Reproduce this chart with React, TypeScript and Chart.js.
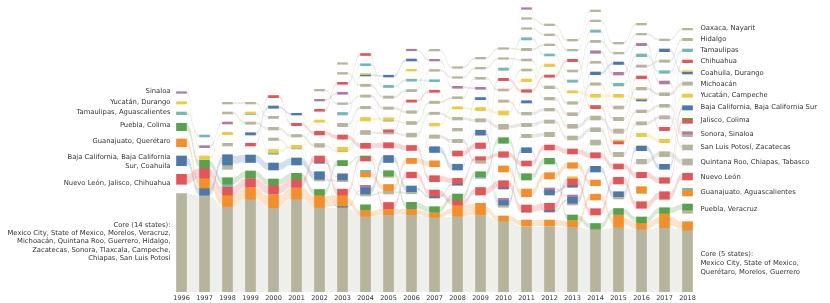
import React, { useEffect, useRef } from "react";
import { Chart, registerables } from "chart.js";
Chart.register(...registerables);

// Years on the x axis
const years = ["1996","1997","1998","1999","2000","2001","2002","2003","2004","2005","2006","2007","2008","2009","2010","2011","2012","2013","2014","2015","2016","2017","2018"];

// Each piece: [colour key, top, bottom] on a reversed axis (0 = top of plot, 292 = baseline)
type Piece = [string, number, number];

const c1996: Piece[] = [["P",91.7,93.3],["Y",101.7,104],["C",112,114.7],["G",123.3,130.7],["O",139,146.7],["B",156,165.7],["R",174.3,184.3],["K",193.7,292]];
const c1997: Piece[] = [["C",135,137],["P",145.7,147.7],["Y",156,159.5],["G",160,167.7],["R",168.3,178],["O",178.3,188],["B",188.3,195.3],["K",195.7,292]];
const c1998: Piece[] = [["T",102.3,104],["T",112,114],["P",122,124],["Y",132.3,134.7],["T",143.3,146],["B",154.7,165],["T",165,169.3],["G",177.7,184],["C",184,186.7],["R",186.7,195],["O",195.3,206.7],["K",207,292]];
const c1999: Piece[] = [["T",102.3,104],["Y",112,113.7],["C",113.7,114.5],["T",122,124.3],["B",132.7,135],["R",143.3,146],["B",155,162.5],["G",171,178],["R",178.5,187],["O",187.5,199],["K",199.3,292]];
const c2000: Piece[] = [["R",95.5,97.7],["B",106,108.3],["T",116.3,118.5],["T",127.3,130],["T",138,140.5],["Y",149.5,152.7],["C",152.7,154.3],["B",163,170],["G",179,185],["R",185.3,194.3],["O",195,207.7],["K",208,292]];
const c2001: Piece[] = [["B",113.3,115],["R",123.3,125.7],["T",134.5,137],["Y",145.3,147.7],["T",147.7,149],["B",158,165],["G",173.3,179.3],["R",179.3,187.3],["O",187.5,199],["K",199.3,292]];
const c2002: Piece[] = [["T",89.3,91],["P",99.3,101],["R",109.3,111.3],["Y",120,122.3],["R",131.3,135],["T",143.5,147.3],["R",156,162],["B",162,163.3],["B",171.7,179.3],["T",179.3,181],["G",189.5,195],["O",195.3,207.5],["K",207.7,292]];
const c2003: Piece[] = [["T",62.7,64.3],["T",72.5,74.2],["R",82.3,84.3],["P",92.3,94.3],["T",102.8,104.5],["C",112.5,115],["T",123.3,126.7],["R",135,139.2],["Y",147.2,151],["T",151,151.8],["G",160.5,165.7],["B",173.8,180],["T",180,181.7],["R",189.2,195],["O",195.3,206],["B",206,207.3],["K",207.7,292]];
const c2004: Piece[] = [["R",53.5,55.5],["C",63.7,65.7],["Y",73.5,74.5],["B",74.5,76],["T",84.2,86.5],["T",95,97.2],["T",106.3,108.8],["Y",117.5,121],["T",130.5,134.5],["R",143.3,148.3],["G",156,156.8],["R",156.8,161],["C",170.3,171.7],["O",171.7,177],["P",185.3,187.3],["B",187.3,194],["T",194,196],["G",204.8,210],["O",210.5,216.5],["K",216.8,292]];
const c2005: Piece[] = [["B",75.2,77],["C",85.3,87.5],["T",96,98.3],["T",107,109.3],["Y",117.8,120],["T",120,121.3],["R",129.8,132],["T",132,134],["R",142.7,148],["B",155.5,162.5],["G",170.7,176],["T",176,177.3],["O",184.5,190.5],["T",190.5,194],["R",202.5,208.7],["O",209,214.7],["K",215.3,292]];
const c2006: Piece[] = [["P",49.2,50.8],["B",59,61],["Y",69.2,71],["C",79.2,81.2],["T",89.5,91.7],["R",100,102.2],["T",110.8,113.3],["T",121.5,124.5],["T",133.2,137],["R",145.5,150.5],["O",158.3,163.5],["R",172.2,177.8],["B",186,191.7],["T",191.7,193.8],["G",202.3,208.7],["O",209,214.7],["K",215,292]];
const c2007: Piece[] = [["T",49.3,51],["P",59.3,61],["T",69.5,71.3],["C",79.7,81.7],["R",90.2,92.3],["T",101.2,103.5],["T",112.2,114.5],["Y",123.3,126],["T",135,138.3],["B",146.7,152.5],["O",160.8,166.7],["R",175.7,181.7],["R",190,196],["B",196,198],["G",206.7,212.3],["O",212.7,217.5],["K",217.8,292]];
const c2008: Piece[] = [["T",66.7,68.3],["T",76.7,78.3],["P",86.3,88.3],["T",96.7,98.7],["Y",106.7,109],["T",117.3,120],["T",128.3,131],["T",139.3,142.7],["R",151,156],["B",164.2,170],["R",178.3,183.5],["B",183.5,185.3],["G",194,200],["R",200,205],["O",205,216.5],["K",217,292]];
const c2009: Piece[] = [["T",57.3,59],["T",67.3,69],["T",77.3,79.3],["P",87.3,89.3],["B",97.5,99.7],["Y",107.5,110.7],["T",118.7,122],["B",130.2,135.2],["R",143,148.5],["R",156.7,160],["T",160,163.3],["G",171.7,176.7],["C",176.7,178.3],["R",187.5,195],["O",203.3,215],["K",215.5,292]];
const c2010: Piece[] = [["T",47.7,49.3],["T",57.7,59.3],["C",68,70.3],["R",78.3,80.7],["T",89,91],["T",100,102.3],["Y",111,115],["T",124.3,129.3],["G",137.7,143.3],["R",151.7,157.3],["O",166,172],["R",180.7,187.3],["B",187.3,189],["P",198.3,200],["B",200,205],["T",205,207.3],["O",216,221],["K",221.3,292]];
const c2011: Piece[] = [["P",7.7,9.3],["T",17.7,19.3],["T",27.7,29.3],["C",37.7,40],["T",48.3,50.7],["T",59,61],["T",69,71],["Y",79,81.7],["R",89.7,92.3],["B",100.7,103],["T",112.3,115],["T",123.3,126.7],["T",134.3,137.7],["B",147.7,152.7],["R",161,166],["G",173.7,180],["O",189,196.7],["R",205,212.3],["O",220,226],["K",226.7,292]];
const c2012: Piece[] = [["T",24,25.7],["T",34,35.7],["T",44,45.7],["C",54,56],["Y",64,66.7],["R",75,77.3],["T",86,88.7],["T",97.3,100],["T",108.3,111],["T",120,123.3],["T",132.3,136.7],["R",145,150],["G",158.3,164],["O",172.7,179],["P",188,189.5],["B",189.5,195],["R",203.3,210],["B",210,212],["O",220,226],["K",226.7,292]];
const c2013: Piece[] = [["T",39.3,41],["T",49.3,51],["R",59.3,61.7],["T",70,72],["C",80,82.3],["Y",90.7,93],["T",101.7,104.3],["T",112.7,115.7],["T",124.3,128.3],["T",136,140],["R",149,154],["O",162.7,168.3],["Y",176.7,178.3],["R",178.3,185],["B",185,187.3],["P",195,196.7],["B",196.7,203.3],["T",203.3,205],["G",215,220],["O",220.5,226.7],["K",227.3,292]];
const c2014: Piece[] = [["T",10,11.7],["T",20,21.7],["C",30,32.3],["T",40.3,42.5],["P",50.8,53.3],["T",61.3,63.3],["B",72,74.7],["T",82.8,85.3],["Y",94.2,97.3],["R",105.5,108.7],["T",116,120],["T",127.7,131.7],["T",140,145],["R",152.7,158],["B",166.3,172],["O",180,185.7],["O",194.2,200],["R",208.7,215],["G",223.5,229],["K",229.3,292]];
const c2015: Piece[] = [["T",42.3,44],["T",52.3,54],["B",62,64.5],["P",72.3,75],["C",83.3,86],["Y",94.3,97.3],["T",106,109],["T",117.3,120.7],["T",129,133.3],["Y",140,141],["R",141,144],["T",152.3,156.7],["R",164,169],["R",177.3,184],["B",191.7,196.7],["T",196.7,199],["G",208.5,214.5],["O",215,227.5],["K",228,292]];
const c2016: Piece[] = [["T",23.3,25],["T",33.3,35],["P",43.3,45.7],["C",54,56.7],["T",65,67.3],["R",76,78.7],["T",87.3,90],["Y",98.5,99.3],["B",99.3,101],["T",110,112.7],["T",121.7,125],["Y",133.3,136.7],["B",146,150.7],["T",159.3,164],["R",172.3,177.7],["O",186.7,193.3],["R",201.7,208.3],["G",217,222.7],["O",222.7,229],["K",229.3,292]];
const c2017: Piece[] = [["T",39,40.7],["B",49,51.7],["T",60,62.3],["C",70.7,73.3],["P",81,84],["T",92.7,95.7],["T",104.3,107.3],["T",115.7,119],["R",127.3,130.7],["Y",139.3,142.7],["T",151.7,156.7],["B",164.3,169.3],["R",177.7,183.3],["R",191.7,199.3],["G",207.7,213.3],["O",213.3,227.7],["K",228,292]];
const c2018: Piece[] = [["T",28.3,30],["T",38.3,40.7],["C",49,51.7],["R",60,62.7],["Y",70.7,71.7],["B",71.7,74],["T",82,85.3],["Y",94,97.3],["B",105.7,110],["G",118.3,119.3],["R",119.3,123.3],["P",131.7,134],["T",134,136.7],["T",145,150],["T",159,165],["R",173.3,180],["C",188.3,189.7],["O",189.7,196],["G",204,210],["T",210,213.3],["O",221.7,230],["K",230,292]];

const columns: Piece[][] = [c1996,c1997,c1998,c1999,c2000,c2001,c2002,c2003,c2004,c2005,c2006,c2007,c2008,c2009,c2010,c2011,c2012,c2013,c2014,c2015,c2016,c2017,c2018];

// Labels beside the first and last columns: [text, anchor on the same reversed axis]
const leftLabels: [string, number][] = [
  ["Sinaloa", 91.7], ["Yucatán, Durango", 102.3], ["Tamaulipas, Aguascalientes", 112.7],
  ["Puebla, Colima", 125.7], ["Guanajuato, Querétaro", 141.7],
  ["Baja California, Baja California", 157.3], ["Sur, Coahuila", 166.7],
  ["Nuevo León, Jalisco, Chihuahua", 183.3],
  ["Core (14 states):", 225], ["Mexico City, State of Mexico, Morelos, Veracruz,", 233.3],
  ["Michoacán, Quintana Roo, Guerrero, Hidalgo,", 241.7], ["Zacatecas, Sonora, Tlaxcala, Campeche,", 250],
  ["Chiapas, San Luis Potosí", 258.3],
];
const rightLabels: [string, number][] = [
  ["Oaxaca, Nayarit", 28.3], ["Hidalgo", 39.3], ["Tamaulipas", 50.5], ["Chihuahua", 61.5],
  ["Coahuila, Durango", 73], ["Michoacán", 84.3], ["Yucatán, Campeche", 95.7],
  ["Baja California, Baja California Sur", 107.5], ["Jalisco, Colima", 120.7], ["Sonora, Sinaloa", 134.3],
  ["San Luis Potosí, Zacatecas", 147.7], ["Quintana Roo, Chiapas, Tabasco", 162], ["Nuevo León", 177],
  ["Guanajuato, Aguascalientes", 192.3], ["Puebla, Veracruz", 209],
  ["Core (5 states):", 254.3], ["Mexico City, State of Mexico,", 263.5], ["Querétaro, Morelos, Guerrero", 272.7],
];

const palette: Record<string, string> = {
  K: "#b6b49d", T: "#b6b49d", G: "#59a14f", O: "#f28e2b", B: "#4e79a7",
  R: "#e15759", C: "#76b7b2", Y: "#edc948", P: "#b07aa1",
};
const CORE_BAND = "#eeeeea";
const FONT = '"DejaVu Sans", Verdana, sans-serif';
const BAR_W = 10;

function rgba(hex: string, a: number) {
  const n = parseInt(hex.slice(1), 16);
  return `rgba(${(n >> 16) & 255},${(n >> 8) & 255},${n & 255},${a})`;
}

// order-preserving matching of two sorted lists of centres
function matchOrdered(a: number[], b: number[]): [number, number][] {
  if (a.length > b.length) return matchOrdered(b, a).map(([i, j]) => [j, i] as [number, number]);
  const n = a.length, m = b.length;
  const INF = 1e9;
  const dp: number[][] = [];
  for (let i = 0; i <= n; i++) { dp.push(new Array(m + 1).fill(INF)); }
  for (let j = 0; j <= m; j++) dp[0][j] = 0;
  for (let i = 1; i <= n; i++) {
    for (let j = i; j <= m; j++) {
      dp[i][j] = Math.min(dp[i][j - 1], dp[i - 1][j - 1] + Math.abs(a[i - 1] - b[j - 1]));
    }
  }
  const res: [number, number][] = [];
  let i = n, j = m;
  while (i > 0 && j > 0) {
    if (dp[i][j] === dp[i - 1][j - 1] + Math.abs(a[i - 1] - b[j - 1])) { res.push([i - 1, j - 1]); i--; j--; }
    else j--;
  }
  return res;
}

const flowPlugin = {
  id: "flows",
  beforeDatasetsDraw(chart: any) {
    const { ctx, scales } = chart;
    const xs = scales.x, ys = scales.y;
    const base = ys.getPixelForValue(292);
    ctx.save();
    for (let t = 0; t < columns.length - 1; t++) {
      const x0 = xs.getPixelForValue(t) + BAR_W / 2;
      const x1 = xs.getPixelForValue(t + 1) - BAR_W / 2;
      const xm = (x0 + x1) / 2;
      // core band
      const ka = columns[t].find((p) => p[0] === "K")!;
      const kb = columns[t + 1].find((p) => p[0] === "K")!;
      const ya = ys.getPixelForValue(ka[1]);
      const yb = ys.getPixelForValue(kb[1]);
      ctx.beginPath();
      ctx.moveTo(x0 - 1, ya);
      ctx.bezierCurveTo(xm, ya, xm, yb, x1 + 1, yb);
      ctx.lineTo(x1 + 1, base);
      ctx.lineTo(x0 - 1, base);
      ctx.closePath();
      ctx.fillStyle = CORE_BAND;
      ctx.fill();
      // coloured ribbons
      for (const key of Object.keys(palette)) {
        if (key === "K") continue;
        const A = columns[t].filter((p) => p[0] === key).sort((p, q) => p[1] - q[1]);
        const B = columns[t + 1].filter((p) => p[0] === key).sort((p, q) => p[1] - q[1]);
        if (!A.length || !B.length) continue;
        const pairs = matchOrdered(A.map((p) => (p[1] + p[2]) / 2), B.map((p) => (p[1] + p[2]) / 2));
        for (const [i, j] of pairs) {
          const pa = A[i], pb = B[j];
          const ha = ys.getPixelForValue(pa[2]) - ys.getPixelForValue(pa[1]);
          const hb = ys.getPixelForValue(pb[2]) - ys.getPixelForValue(pb[1]);
          const th = Math.max(1.2, Math.min(ha, hb));
          const ca = ys.getPixelForValue((pa[1] + pa[2]) / 2);
          const cb = ys.getPixelForValue((pb[1] + pb[2]) / 2);
          ctx.beginPath();
          ctx.moveTo(x0, ca - th / 2);
          ctx.bezierCurveTo(xm, ca - th / 2, xm, cb - th / 2, x1, cb - th / 2);
          ctx.lineTo(x1, cb + th / 2);
          ctx.bezierCurveTo(xm, cb + th / 2, xm, ca + th / 2, x0, ca + th / 2);
          ctx.closePath();
          ctx.fillStyle = rgba(palette[key], key === "T" ? 0.3 : 0.24);
          ctx.fill();
        }
      }
    }
    ctx.restore();
  },
  afterDraw(chart: any) {
    const { ctx, scales } = chart;
    const ys = scales.y;
    ctx.save();
    ctx.font = `6.8px ${FONT}`;
    ctx.fillStyle = "#333";
    ctx.textBaseline = "middle";
    ctx.textAlign = "right";
    for (const [txt, v] of leftLabels) ctx.fillText(txt, 170.5, ys.getPixelForValue(v));
    ctx.textAlign = "left";
    for (const [txt, v] of rightLabels) ctx.fillText(txt, 700.5, ys.getPixelForValue(v));
    ctx.restore();
  },
};

export default function App() {
  const ref = useRef<HTMLCanvasElement>(null);
  useEffect(() => {
    document.body.style.margin = "0";
    const maxSlots = Math.max(...columns.map((c) => c.length));
    const datasets = [];
    for (let s = 0; s < maxSlots; s++) {
      datasets.push({
        data: columns.map((c) => (c[s] ? [c[s][1], c[s][2]] : null)),
        backgroundColor: columns.map((c) => (c[s] ? palette[c[s][0]] : "transparent")),
        borderWidth: 0,
        barThickness: BAR_W,
        grouped: false,
      });
    }
    const chart = new Chart(ref.current!, {
      type: "bar",
      data: { labels: years, datasets: datasets as any },
      plugins: [flowPlugin],
      options: {
        animation: false,
        responsive: false,
        devicePixelRatio: 1,
        events: [],
        layout: { padding: { left: 170, right: 131, top: 0, bottom: 0 } },
        plugins: { legend: { display: false }, tooltip: { enabled: false } },
        scales: {
          x: {
            type: "category",
            offset: true,
            grid: { display: false, drawTicks: false },
            border: { display: false },
            ticks: { font: { family: FONT, size: 6.5 }, color: "#333", padding: 2, maxRotation: 0, autoSkip: false },
            afterFit: (s: any) => { s.height = 11; },
          },
          y: { display: false, reverse: true, min: 0, max: 292 },
        },
      } as any,
    });
    return () => chart.destroy();
  }, []);
  return (
    <div style={{ width: 830, height: 303 }}>
      <canvas ref={ref} width={830} height={303} style={{ display: "block" }} />
    </div>
  );
}
